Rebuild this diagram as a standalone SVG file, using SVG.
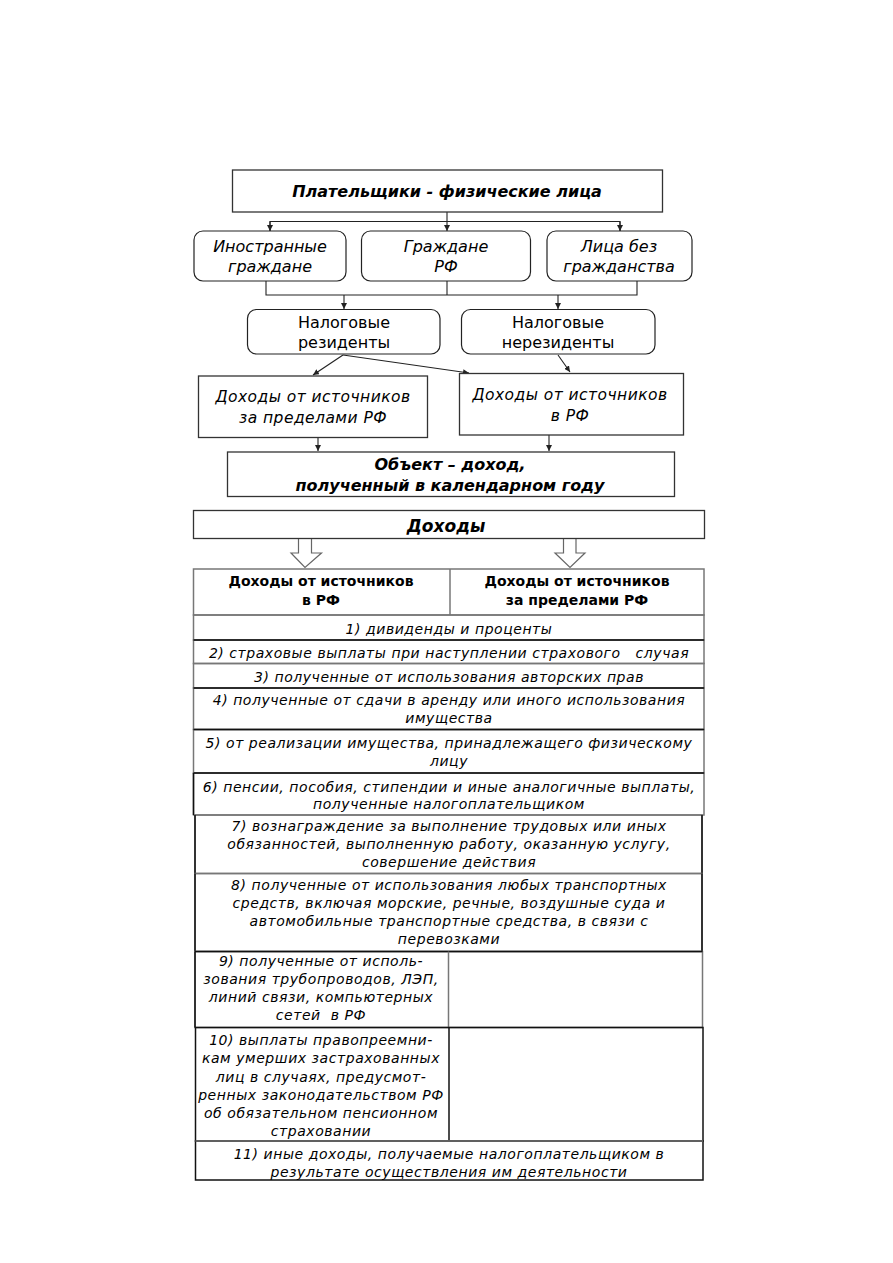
<svg xmlns="http://www.w3.org/2000/svg" width="893" height="1263" viewBox="0 0 893 1263">
<style>
text{font-family:"DejaVu Sans",Verdana,sans-serif;fill:#000;text-anchor:middle}
.bx{fill:#fff;stroke:#333;stroke-width:1.3}
.rb{fill:#fff;stroke:#222;stroke-width:1.2}
.ln{fill:none;stroke:#222;stroke-width:1.1}
.g{fill:none;stroke:#777;stroke-width:1.5}
.k{fill:none;stroke:#111;stroke-width:1.5}
.t16{font-size:16px}
.i{font-style:italic}
.b{font-weight:bold}
.r{font-size:14px;font-style:italic;letter-spacing:0.55px}
.h{font-size:14px;font-weight:bold}
.ba{fill:#fff;stroke:#666;stroke-width:1.2}
</style>
<defs>
<marker id="ar" markerWidth="6" markerHeight="6" refX="6" refY="3" orient="auto" markerUnits="userSpaceOnUse">
<path d="M0,0 L6,3 L0,6 Z" fill="#222"/>
</marker>
</defs>
<rect width="893" height="1263" fill="#fff"/>

<g id="connectors">
<line class="ln" x1="447" y1="212" x2="447" y2="231" marker-end="url(#ar)"/>
<polyline class="ln" points="270,231 270,221.5 620,221.5 620,231"/>
<line class="ln" x1="270" y1="221.5" x2="270" y2="231" marker-end="url(#ar)"/>
<line class="ln" x1="620" y1="221.5" x2="620" y2="231" marker-end="url(#ar)"/>
<polyline class="ln" points="266,281 266,295 637,295 637,281"/>
<line class="ln" x1="447" y1="281" x2="447" y2="295"/>
<line class="ln" x1="344" y1="295" x2="344" y2="309" marker-end="url(#ar)"/>
<line class="ln" x1="558" y1="295" x2="558" y2="309" marker-end="url(#ar)"/>
<line class="ln" x1="343" y1="355" x2="313" y2="375" marker-end="url(#ar)"/>
<line class="ln" x1="343" y1="355" x2="469" y2="373" marker-end="url(#ar)"/>
<line class="ln" x1="558" y1="355" x2="570" y2="372" marker-end="url(#ar)"/>
<line class="ln" x1="318" y1="437" x2="318" y2="451" marker-end="url(#ar)"/>
<line class="ln" x1="549" y1="435" x2="549" y2="451" marker-end="url(#ar)"/>
<path class="ba" d="M298.5,538.5 V553 H291 L305,567.5 L321.5,553 H311.5 V538.5"/>
<path class="ba" d="M563.5,538.5 V553 H555 L570,567.5 L585,553 H576 V538.5"/>
</g>

<g id="payers">
<rect class="bx" x="232.5" y="170" width="430" height="42"/>
<text class="t16 i b" x="447" y="197">Плательщики - физические лица</text>
</g>
<g id="foreign">
<rect class="rb" x="194" y="231" width="152" height="50" rx="9"/>
<text class="t16 i" x="270" y="252">Иностранные</text>
<text class="t16 i" x="270" y="272">граждане</text>
</g>
<g id="citizens">
<rect class="rb" x="361.5" y="231" width="169" height="50" rx="9"/>
<text class="t16 i" x="446" y="252">Граждане</text>
<text class="t16 i" x="446" y="272">РФ</text>
</g>
<g id="stateless">
<rect class="rb" x="547" y="231" width="145" height="50" rx="9"/>
<text class="t16 i" x="619" y="252">Лица без</text>
<text class="t16 i" x="619" y="272">гражданства</text>
</g>
<g id="residents">
<rect class="rb" x="247.5" y="309.5" width="192.5" height="44.5" rx="9"/>
<text class="t16" x="344" y="328">Налоговые</text>
<text class="t16" x="344" y="348">резиденты</text>
</g>
<g id="nonresidents">
<rect class="rb" x="461.5" y="309.5" width="193.5" height="44.5" rx="9"/>
<text class="t16" x="558" y="328">Налоговые</text>
<text class="t16" x="558" y="348">нерезиденты</text>
</g>
<g id="income-abroad">
<rect class="bx" x="198.5" y="376" width="229" height="61.5"/>
<text class="i" font-size="15.5" letter-spacing="0.45" x="313" y="402">Доходы от источников</text>
<text class="i" font-size="15.5" letter-spacing="0.45" x="313" y="423">за пределами РФ</text>
</g>
<g id="income-rf">
<rect class="bx" x="459.5" y="373.5" width="224" height="61.5"/>
<text class="i" font-size="15.5" letter-spacing="0.45" x="570" y="400">Доходы от источников</text>
<text class="i" font-size="15.5" letter-spacing="0.45" x="570" y="421">в РФ</text>
</g>
<g id="object">
<rect class="bx" x="227.5" y="452" width="447" height="44.5" stroke="#111"/>
<text class="t16 i b" x="450" y="470">Объект – доход,</text>
<text class="t16 i b" x="450" y="491">полученный в календарном году</text>
</g>
<g id="income-title">
<rect class="bx" x="193.5" y="510.5" width="511" height="28"/>
<text class="i b" font-size="17" x="446" y="532">Доходы</text>
</g>

<g id="table">
<rect class="g" x="193.5" y="569" width="510.5" height="46"/>
<line class="g" x1="450" y1="569" x2="450" y2="615"/>
<text class="h" x="321" y="586">Доходы от источников</text>
<text class="h" x="321" y="605">в РФ</text>
<text class="h" x="577" y="586">Доходы от источников</text>
<text class="h" x="577" y="605">за пределами РФ</text>

<rect class="g" x="193.5" y="615" width="510.5" height="25"/>
<text class="r" x="449" y="634">1) дивиденды и проценты</text>
<rect class="g" x="193.5" y="640" width="510.5" height="23.5"/>
<line class="k" x1="193.5" y1="640" x2="704" y2="640"/>
<text class="r" x="449" y="658" xml:space="preserve">2) страховые выплаты при наступлении страхового   случая</text>
<rect class="g" x="193.5" y="663.5" width="510.5" height="24.5"/>
<text class="r" x="449" y="682">3) полученные от использования авторских прав</text>
<rect class="g" x="193.5" y="688" width="510.5" height="41.5"/>
<line class="k" x1="193.5" y1="688" x2="704" y2="688"/>
<text class="r" x="449" y="705">4) полученные от сдачи в аренду или иного использования</text>
<text class="r" x="449" y="723">имущества</text>
<rect class="g" x="193.5" y="729.5" width="510.5" height="43.5"/>
<line class="k" x1="193.5" y1="729.5" x2="704" y2="729.5"/>
<text class="r" x="449" y="748">5) от реализации имущества, принадлежащего физическому</text>
<text class="r" x="449" y="766">лицу</text>
<rect class="g" x="193.5" y="773" width="510.5" height="42"/>
<line class="k" x1="193.5" y1="773" x2="704" y2="773"/>
<line class="k" x1="193.5" y1="773" x2="193.5" y2="815"/>
<text class="r" x="449" y="792">6) пенсии, пособия, стипендии и иные аналогичные выплаты,</text>
<text class="r" x="449" y="809">полученные налогоплательщиком</text>

<rect class="g" x="195" y="815" width="507" height="58.5"/>
<line class="k" x1="195" y1="815" x2="195" y2="873.5"/>
<line class="k" x1="702" y1="815" x2="702" y2="873.5"/>
<text class="r" x="449" y="831">7) вознаграждение за выполнение трудовых или иных</text>
<text class="r" x="449" y="849">обязанностей, выполненную работу, оказанную услугу,</text>
<text class="r" x="449" y="867">совершение действия</text>
<rect class="g" x="195" y="873.5" width="507" height="78"/>
<line class="k" x1="195" y1="873.5" x2="195" y2="951.5"/>
<line class="k" x1="702" y1="873.5" x2="702" y2="951.5"/>
<text class="r" x="449" y="890">8) полученные от использования любых транспортных</text>
<text class="r" x="449" y="908">средств, включая морские, речные, воздушные суда и</text>
<text class="r" x="449" y="926">автомобильные транспортные средства, в связи с</text>
<text class="r" x="449" y="944">перевозками</text>
<rect class="g" x="195" y="951.5" width="507.5" height="76"/>
<line class="k" x1="195" y1="951.5" x2="702.5" y2="951.5"/>
<line class="k" x1="195" y1="951.5" x2="195" y2="1027.5"/>
<line class="g" x1="448.5" y1="951.5" x2="448.5" y2="1027.5"/>
<text class="r" x="321" y="966">9) полученные от исполь-</text>
<text class="r" x="321" y="984">зования трубопроводов, ЛЭП,</text>
<text class="r" x="321" y="1002">линий связи, компьютерных</text>
<text class="r" x="321" y="1020" xml:space="preserve">сетей  в РФ</text>
<rect class="k" x="195.5" y="1027.5" width="507.5" height="113.5"/>
<line class="k" x1="449" y1="1027.5" x2="449" y2="1141"/>
<text class="r" x="321" y="1045">10) выплаты правопреемни-</text>
<text class="r" x="321" y="1063">кам умерших застрахованных</text>
<text class="r" x="321" y="1082">лиц в случаях, предусмот-</text>
<text class="r" x="321" y="1100">ренных законодательством РФ</text>
<text class="r" x="321" y="1118">об обязательном пенсионном</text>
<text class="r" x="321" y="1136">страховании</text>
<rect class="k" x="195.5" y="1141" width="507.5" height="39"/>
<line class="g" x1="195.5" y1="1141" x2="703" y2="1141"/>
<text class="r" x="449" y="1159">11) иные доходы, получаемые налогоплательщиком в</text>
<text class="r" x="449" y="1177">результате осуществления им деятельности</text>
</g>
</svg>
